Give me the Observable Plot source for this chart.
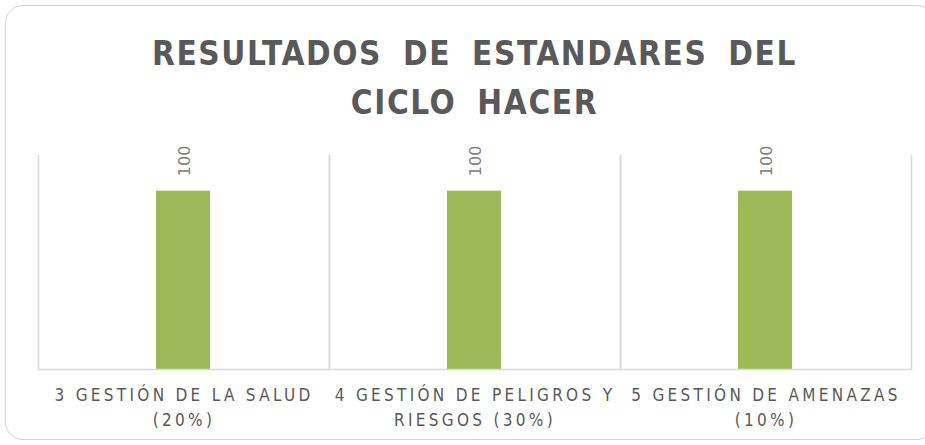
<!DOCTYPE html>
<html><head><meta charset="utf-8">
<script src="https://cdn.jsdelivr.net/npm/d3@7"></script>
<script src="https://cdn.jsdelivr.net/npm/@observablehq/plot@0.6"></script>
<style>
body{margin:0;width:925px;height:445px;overflow:hidden;background:#fff;font-family:"Liberation Sans Narrow","DejaVu Sans Condensed",sans-serif;}
#frame{position:absolute;left:5px;top:5px;width:930px;height:435px;border:1.5px solid #d4d4d4;border-radius:18px;box-sizing:border-box;}
#title{position:absolute;left:7px;top:29px;width:935px;text-align:center;font-weight:bold;font-size:33px;line-height:49px;color:#595959;letter-spacing:1.6px;word-spacing:9px;font-family:"Liberation Sans Narrow","DejaVu Sans Condensed",sans-serif;}
#chart{position:absolute;left:0;top:0;}
#chart svg [aria-label="fx-axis tick label"] text{letter-spacing:3.3px;}
</style></head>
<body>
<div id="frame"></div>
<div id="title">RESULTADOS DE ESTANDARES DEL<br>CICLO HACER</div>
<div id="chart"></div>
<script>
const categories = ["3 GESTIÓN DE LA SALUD\n(20%)", "4 GESTIÓN DE PELIGROS Y\nRIESGOS (30%)", "5 GESTIÓN DE AMENAZAS\n(10%)"];
const values = [100, 100, 100];
const data = categories.map((c, i) => ({category: c, value: values[i]}));

const chart = Plot.plot({
  width: 925,
  height: 445,
  marginTop: 155,
  marginBottom: 76,
  marginLeft: 37,
  marginRight: 13,
  style: {fontFamily: '"Liberation Sans Narrow","DejaVu Sans Condensed",sans-serif', background: "transparent"},
  fx: {domain: categories, padding: 0},
  y: {domain: [0, 120], axis: null},
  marks: [
    Plot.frame({anchor: "left", stroke: "#d9d9d9", strokeOpacity: 1, strokeWidth: 1.5}),
    Plot.frame({anchor: "right", stroke: "#d9d9d9", strokeOpacity: 1, strokeWidth: 1.5}),
    Plot.barY(data, {fx: "category", y: "value", fill: "#9bbb59", insetLeft: 118, insetRight: 119}),
    Plot.ruleY([0], {stroke: "#d9d9d9", strokeWidth: 1.5}),
    Plot.text(data, {fx: "category", y: "value", text: d => String(d.value), rotate: -90, textAnchor: "start", dy: -15, dx: 1, fill: "#808080", fontSize: 16, fontFamily: "DejaVu Sans, sans-serif"}),
    Plot.axisFx({anchor: "bottom", label: null, tickSize: 0, tickPadding: 13, fontSize: 17, lineHeight: 1.5, fill: "#595959"})
  ]
});
document.getElementById("chart").appendChild(chart);
</script>
</body></html>
